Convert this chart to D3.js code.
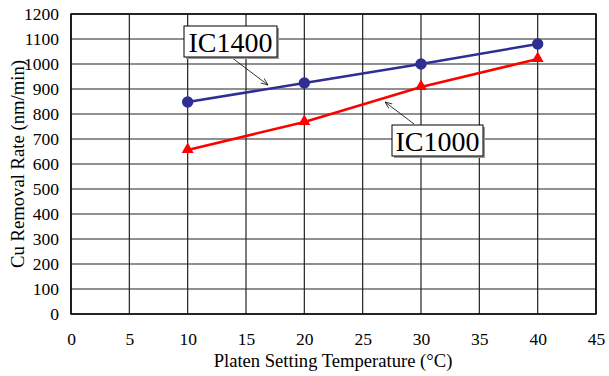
<!DOCTYPE html>
<html>
<head>
<meta charset="utf-8">
<script src="https://cdn.jsdelivr.net/npm/d3@7"></script>
<style>
  body { margin: 0; background: #fff; }
</style>
</head>
<body>
<script>
const temps = [10, 20, 30, 40];
const ic1400 = [848, 924, 1000, 1080];
const ic1000 = [656, 768, 908, 1020];
const xTicks = [0, 5, 10, 15, 20, 25, 30, 35, 40, 45];
const yTicks = [0, 100, 200, 300, 400, 500, 600, 700, 800, 900, 1000, 1100, 1200];

const width = 609, height = 376;
const margin = { top: 14, right: 13, bottom: 62, left: 71 };
const serif = '"Liberation Serif", "Times New Roman", serif';

const svg = d3.select('body').append('svg')
  .attr('width', width)
  .attr('height', height);

const x = d3.scaleLinear().domain([0, 45]).range([margin.left, width - margin.right]);
const y = d3.scaleLinear().domain([0, 1200]).range([height - margin.bottom, margin.top]);

// grid
svg.append('g').selectAll('line').data(xTicks).join('line')
  .attr('x1', d => x(d)).attr('x2', d => x(d))
  .attr('y1', y(0)).attr('y2', y(1200))
  .attr('stroke', '#222').attr('stroke-width', 1.2);
svg.append('g').selectAll('line').data(yTicks).join('line')
  .attr('x1', x(0)).attr('x2', x(45))
  .attr('y1', d => y(d)).attr('y2', d => y(d))
  .attr('stroke', '#222').attr('stroke-width', 1.2);

svg.append('rect')
  .attr('x', x(0)).attr('y', y(1200))
  .attr('width', x(45) - x(0)).attr('height', y(0) - y(1200))
  .attr('fill', 'none').attr('stroke', '#000').attr('stroke-width', 1.5);

// axes
const xAxis = svg.append('g')
  .attr('transform', `translate(0,${y(0)})`)
  .call(d3.axisBottom(x).tickValues(xTicks).tickFormat(d3.format('d')).tickSize(0).tickPadding(19));
const yAxis = svg.append('g')
  .attr('transform', `translate(${x(0)},0)`)
  .call(d3.axisLeft(y).tickValues(yTicks).tickFormat(d3.format('d')).tickSize(0).tickPadding(12));
[xAxis, yAxis].forEach(a => {
  a.select('.domain').remove();
  a.selectAll('text')
    .style('font-family', serif).style('font-size', '17.5px').attr('fill', '#000');
});

svg.append('text')
  .attr('x', 333).attr('y', 367)
  .attr('text-anchor', 'middle')
  .style('font-family', serif).style('font-size', '18.6px')
  .text('Platen Setting Temperature (°C)');
svg.append('text')
  .attr('transform', `translate(24,${(y(0) + y(1200)) / 2}) rotate(-90)`)
  .attr('text-anchor', 'middle')
  .style('font-family', serif).style('font-size', '18.7px')
  .text('Cu Removal Rate (nm/min)');

// series
const line = d3.line().x((d, i) => x(temps[i])).y(d => y(d));

svg.append('path').datum(ic1400)
  .attr('d', line).attr('fill', 'none')
  .attr('stroke', '#2e2e94').attr('stroke-width', 2.5);
svg.append('g').selectAll('circle').data(ic1400).join('circle')
  .attr('cx', (d, i) => x(temps[i])).attr('cy', d => y(d))
  .attr('r', 5.7).attr('fill', '#2e2e94');

svg.append('path').datum(ic1000)
  .attr('d', line).attr('fill', 'none')
  .attr('stroke', '#ff0000').attr('stroke-width', 2.5);
svg.append('g').selectAll('path.tri').data(ic1000).join('path')
  .attr('class', 'tri')
  .attr('d', d3.symbol().type(d3.symbolTriangle).size(62))
  .attr('transform', (d, i) => `translate(${x(temps[i])},${y(d) - 0.5})`)
  .attr('fill', '#ff0000');

// callouts
svg.append('defs').append('marker')
  .attr('id', 'arr').attr('viewBox', '0 0 10 10')
  .attr('refX', 10).attr('refY', 5)
  .attr('markerWidth', 9).attr('markerHeight', 9)
  .attr('orient', 'auto')
  .append('path').attr('d', 'M0,1 L10,5 L0,9')
  .attr('fill', 'none').attr('stroke', '#000').attr('stroke-width', 1);

function callout(label, bx, by, bw, bh, x1, y1, x2, y2) {
  svg.append('line')
    .attr('x1', x1).attr('y1', y1).attr('x2', x2).attr('y2', y2)
    .attr('stroke', '#000').attr('stroke-width', 0.8)
    .attr('marker-end', 'url(#arr)');
  svg.append('rect')
    .attr('x', bx + 2).attr('y', by + 2).attr('width', bw).attr('height', bh)
    .attr('fill', '#999');
  svg.append('rect')
    .attr('x', bx).attr('y', by).attr('width', bw).attr('height', bh)
    .attr('fill', '#fff').attr('stroke', '#000').attr('stroke-width', 1);
  svg.append('text')
    .attr('x', bx + bw / 2).attr('y', by + bh / 2 + 10)
    .attr('text-anchor', 'middle')
    .style('font-family', serif).style('font-size', '28px')
    .text(label);
}

callout('IC1400', 184, 26, 93, 31, 231, 57, 268, 85);
callout('IC1000', 392, 125, 91, 31, 414, 124, 385, 102);
</script>
</body>
</html>
